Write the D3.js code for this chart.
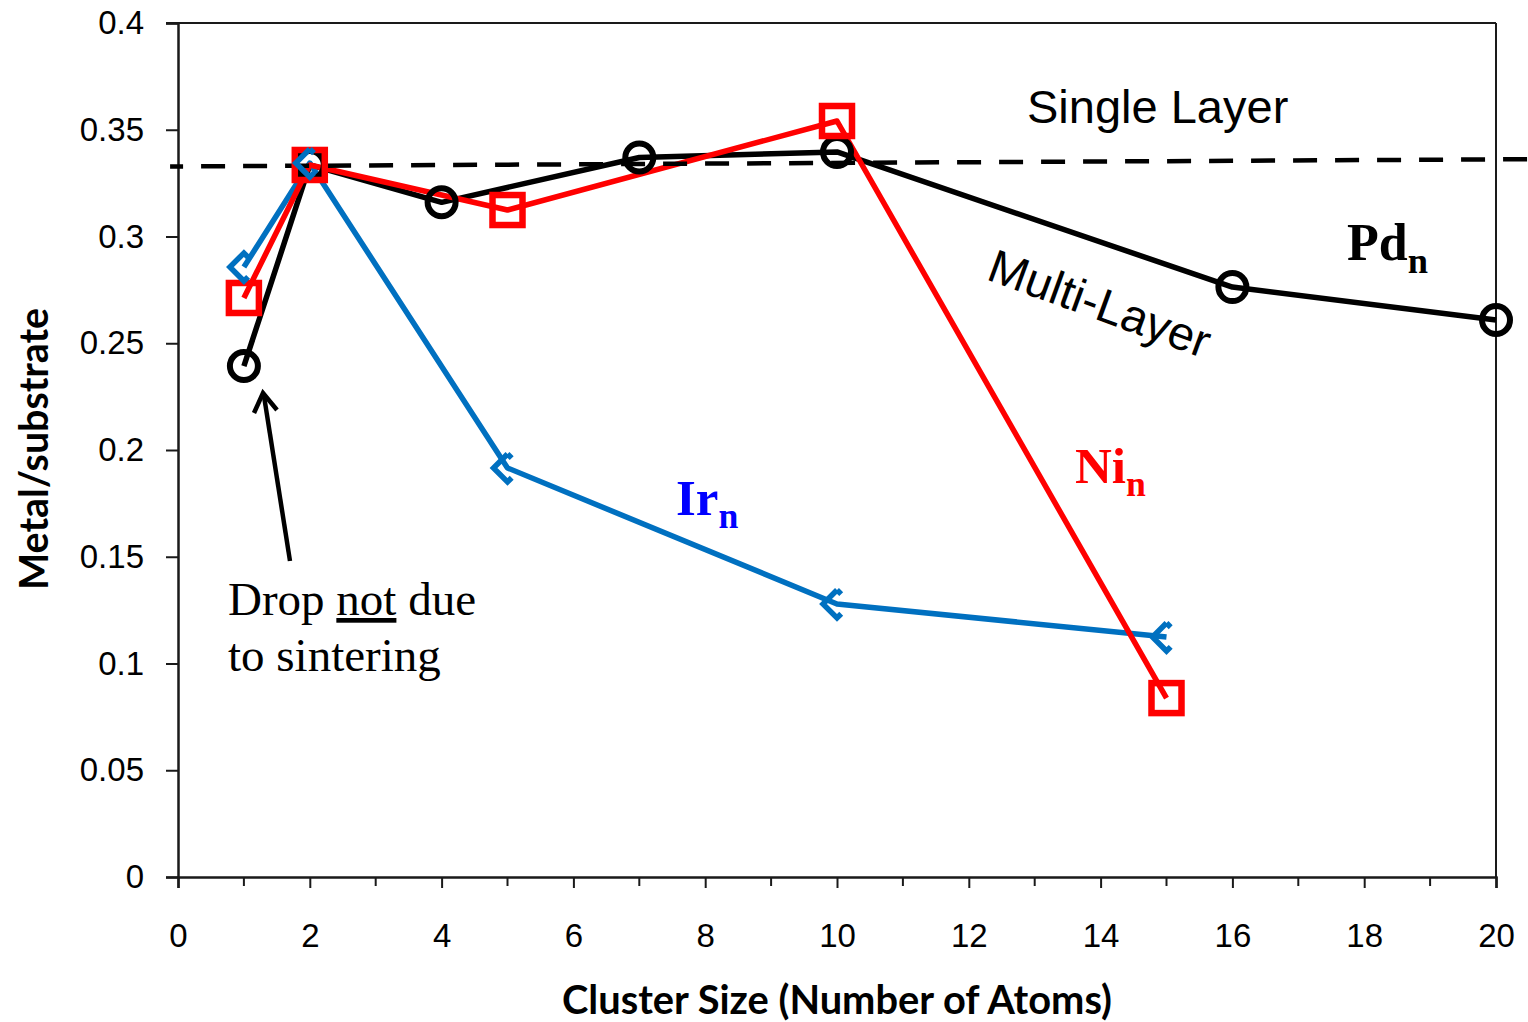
<!DOCTYPE html>
<html>
<head>
<meta charset="utf-8">
<script src="https://cdn.jsdelivr.net/npm/d3@7"></script>
<style>
  html, body { margin: 0; padding: 0; background: #fff; }
  svg { display: block; }
</style>
</head>
<body>
<svg id="chart" width="1528" height="1022"></svg>
<script>
// Cluster sizes (number of atoms) and metal/substrate ratios per metal
const pdSizes = [1, 2, 4, 7, 10, 16, 20];
const pdValues = [0.2393, 0.3335, 0.316, 0.337, 0.3396, 0.2763, 0.2609];

const niSizes = [1, 2, 5, 10, 15];
const niValues = [0.2712, 0.3335, 0.3124, 0.3541, 0.0838];

const irSizes = [1, 2, 5, 10, 15];
const irValues = [0.2857, 0.3344, 0.1916, 0.1279, 0.1124];

// Single-layer reference line (start and end)
const layerX = [-0.12, 20.5];
const layerY = [0.3328, 0.3362];

const xTicks = [0, 2, 4, 6, 8, 10, 12, 14, 16, 18, 20];
const xMinorTicks = [1, 3, 5, 7, 9, 11, 13, 15, 17, 19];
const yTicks = [0, 0.05, 0.1, 0.15, 0.2, 0.25, 0.3, 0.35, 0.4];

const svg = d3.select("#chart");
const x = d3.scaleLinear().domain([0, 20]).range([178, 1496]);
const y = d3.scaleLinear().domain([0, 0.4]).range([877, 23]);

const sansFont = "'Liberation Sans', Arial, sans-serif";
const serifFont = "'Liberation Serif', 'Times New Roman', serif";
const labelFont = "Lato, 'Open Sans', sans-serif";

// Frame: top and right borders
svg.append("line").attr("x1", 166).attr("x2", x(20)).attr("y1", y(0.4)).attr("y2", y(0.4))
  .attr("stroke", "#1a1a1a").attr("stroke-width", 2);
svg.append("line").attr("x1", x(20)).attr("x2", x(20)).attr("y1", y(0.4)).attr("y2", y(0))
  .attr("stroke", "#1a1a1a").attr("stroke-width", 2);

// Y axis
const yAxis = svg.append("g").attr("transform", `translate(${x(0)},0)`)
  .call(d3.axisLeft(y).tickValues(yTicks).tickSize(12).tickPadding(22)
    .tickFormat(d => d === 0 ? "0" : String(+d.toFixed(2))));
yAxis.select(".domain").attr("stroke", "#1a1a1a").attr("stroke-width", 2.5);
yAxis.selectAll(".tick line").attr("stroke", "#1a1a1a").attr("stroke-width", 2);
yAxis.selectAll(".tick text").attr("font-family", sansFont).attr("font-size", 33).attr("fill", "#000");

// X axis (major and minor ticks)
const xAxis = svg.append("g").attr("transform", `translate(0,${y(0)})`)
  .call(d3.axisBottom(x).tickValues(xTicks).tickSize(11).tickPadding(36).tickFormat(d3.format("d")));
xAxis.select(".domain").attr("stroke", "#1a1a1a").attr("stroke-width", 2.5);
xAxis.selectAll(".tick line").attr("stroke", "#1a1a1a").attr("stroke-width", 2);
xAxis.selectAll(".tick text").attr("font-family", sansFont).attr("font-size", 33).attr("fill", "#000");
svg.append("g").selectAll("line").data(xMinorTicks).join("line")
  .attr("x1", d => x(d)).attr("x2", d => x(d))
  .attr("y1", y(0)).attr("y2", y(0) + 9)
  .attr("stroke", "#1a1a1a").attr("stroke-width", 2);

// Axis titles
svg.append("text")
  .attr("x", 837).attr("y", 1014)
  .attr("text-anchor", "middle")
  .attr("font-family", labelFont).attr("font-weight", "bold").attr("font-size", 40)
  .attr("textLength", 550).attr("lengthAdjust", "spacingAndGlyphs")
  .text("Cluster Size (Number of Atoms)");
svg.append("text")
  .attr("transform", "translate(48,449) rotate(-90)")
  .attr("text-anchor", "middle")
  .attr("font-family", labelFont).attr("font-weight", "bold").attr("font-size", 40)
  .attr("textLength", 282).attr("lengthAdjust", "spacingAndGlyphs")
  .text("Metal/substrate");

const line = d3.line().x(d => x(d[0])).y(d => y(d[1]));
const zip = (a, b) => a.map((v, i) => [v, b[i]]);

const pdData = zip(pdSizes, pdValues);
const niData = zip(niSizes, niValues);
const irData = zip(irSizes, irValues);

const black = "#000000", red = "#FF0000", blue = "#0070C0";

// Series lines
svg.append("path").datum(pdData).attr("d", line)
  .attr("fill", "none").attr("stroke", black).attr("stroke-width", 5.5).attr("stroke-linejoin", "round");
svg.append("path").datum(irData).attr("d", line)
  .attr("fill", "none").attr("stroke", blue).attr("stroke-width", 5.5).attr("stroke-linejoin", "round");
svg.append("path").datum(niData).attr("d", line)
  .attr("fill", "none").attr("stroke", red).attr("stroke-width", 5.5).attr("stroke-linejoin", "round");

// Single-layer dashed reference
svg.append("path").datum(zip(layerX, layerY)).attr("d", line)
  .attr("fill", "none").attr("stroke", black).attr("stroke-width", 4.5)
  .attr("stroke-dasharray", "24 18").attr("stroke-dashoffset", 11);

// Markers: Pd circles
svg.append("g").selectAll("circle").data(pdData).join("circle")
  .attr("cx", d => x(d[0])).attr("cy", d => y(d[1])).attr("r", 14)
  .attr("fill", "none").attr("stroke", black).attr("stroke-width", 6);

// Ni squares
svg.append("g").selectAll("rect").data(niData).join("rect")
  .attr("x", d => x(d[0]) - 15).attr("y", d => y(d[1]) - 15)
  .attr("width", 30).attr("height", 30)
  .attr("fill", "none").attr("stroke", red).attr("stroke-width", 6.5);

// Ir diamonds (open on the right side)
const dr = 14, edge = dr * Math.SQRT2;
svg.append("g").selectAll("path").data(irData).join("path")
  .attr("d", d => {
    const cx = x(d[0]), cy = y(d[1]);
    return `M${cx},${cy - dr}L${cx - dr},${cy}L${cx},${cy + dr}L${cx + dr},${cy}Z`;
  })
  .attr("fill", "none").attr("stroke", blue).attr("stroke-width", 5.5)
  .attr("stroke-dasharray", `${2.3 * edge} ${1.4 * edge} ${0.3 * edge}`);

// Annotations
svg.append("text").attr("x", 1027).attr("y", 123)
  .attr("font-family", sansFont).attr("font-size", 47).attr("fill", "#000")
  .text("Single Layer");
svg.append("text").attr("transform", "translate(985,279) rotate(20)")
  .attr("font-family", sansFont).attr("font-size", 47).attr("fill", "#000")
  .text("Multi-Layer");

function subLabel(px, py, main, color, size) {
  const t = svg.append("text").attr("x", px).attr("y", py)
    .attr("font-family", serifFont).attr("font-weight", "bold").attr("font-size", size).attr("fill", color);
  t.append("tspan").text(main);
  t.append("tspan").attr("font-size", size * 0.7).attr("dy", size * 0.25).text("n");
}
subLabel(1347, 260, "Pd", "#000", 52);
subLabel(1075, 483, "Ni", red, 51);
subLabel(676, 515, "Ir", "#0000FF", 51);

// Note with arrow
const note = svg.append("text").attr("font-family", serifFont).attr("font-size", 47).attr("fill", "#000");
note.append("tspan").attr("x", 228).attr("y", 615).text("Drop ");
note.append("tspan").attr("text-decoration", "underline").text("not");
note.append("tspan").text(" due");
note.append("tspan").attr("x", 228).attr("y", 671).text("to sintering");

svg.append("line").attr("x1", 290).attr("y1", 561).attr("x2", 264).attr("y2", 396)
  .attr("stroke", "#000").attr("stroke-width", 4.5);
svg.append("path").attr("d", "M254,413L263,393L277,410")
  .attr("fill", "none").attr("stroke", "#000").attr("stroke-width", 4.5).attr("stroke-linejoin", "miter");
</script>
</body>
</html>
